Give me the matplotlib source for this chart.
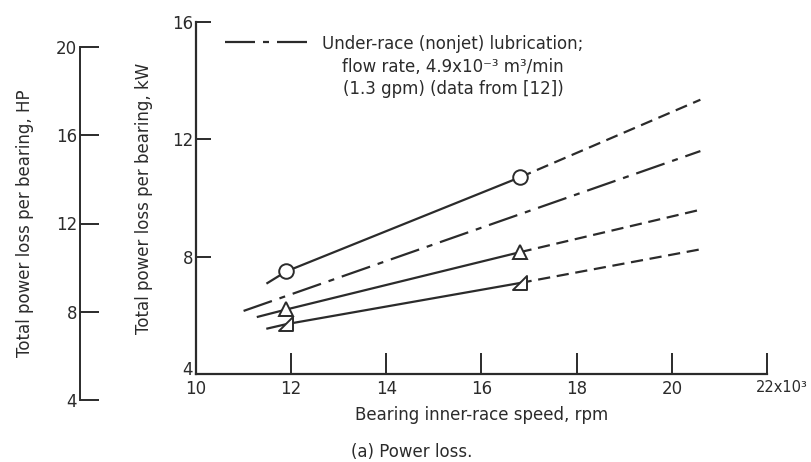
import matplotlib
matplotlib.use("Agg")
import matplotlib.pyplot as plt
import matplotlib.transforms as mtransforms
from matplotlib.path import Path

plt.rcParams['font.family'] = ['Liberation Sans Narrow', 'DejaVu Sans']

ink = '#2b2b2b'

# circles: measured points and extrapolation
circ_x = [11.5, 11.9, 16.8]
circ_y = [7.1, 7.5, 10.7]
circ_ext_x = [16.8, 20.6]
circ_ext_y = [10.7, 13.35]

# open triangles
tri_x = [11.3, 11.9, 16.8]
tri_y = [5.95, 6.2, 8.15]
tri_ext_x = [16.8, 20.6]
tri_ext_y = [8.15, 9.6]

# flagged triangles
flag_x = [11.5, 11.9, 16.8]
flag_y = [5.55, 5.7, 7.1]
flag_ext_x = [16.8, 20.6]
flag_ext_y = [7.1, 8.25]

# under-race (nonjet) lubrication, data from [12]
under_x = [11.0, 20.6]
under_y = [6.15, 11.6]

x_ticks = [10, 12, 14, 16, 18, 20, 22]
kw_ticks = [4, 8, 12, 16]
hp_ticks = [4, 8, 12, 16, 20]

W, H = 811, 462
fig = plt.figure(figsize=(W / 100, H / 100), dpi=100)

ax = fig.add_axes([196 / W, 1 - 374 / H, (767 - 196) / W, (374 - 22) / H])
ax.set_xlim(10, 22)
ax.set_ylim(4, 16)
ax.patch.set_alpha(0)
for s in ['top', 'right']:
    ax.spines[s].set_visible(False)
for s in ['left', 'bottom']:
    ax.spines[s].set_linewidth(1.6)
    ax.spines[s].set_color(ink)

ax.set_xticks(x_ticks)
ax.set_xticklabels([str(t) for t in x_ticks[:-1]] + [''])
ax.set_yticks(kw_ticks)
ax.tick_params(axis='x', direction='in', length=15, width=1.4, color=ink,
               labelsize=12, labelcolor=ink, pad=4)
ax.tick_params(axis='y', direction='in', length=11, width=1.4, color=ink,
               labelsize=12, labelcolor=ink, pad=2)
# last x label carries the multiplier
ax.annotate('%dx10³' % x_ticks[-1], xy=(x_ticks[-1], 0),
            xycoords=('data', 'axes fraction'),
            xytext=(-8, -4), textcoords='offset points', ha='left', va='top',
            fontsize=10.5, color=ink)

# lift the corner "4" a little off the x labels
fig.canvas.draw()
lab4 = ax.get_yticklabels()[0]
lab4.set_transform(lab4.get_transform() +
                   mtransforms.ScaledTranslation(0, 4 / 72, fig.dpi_scale_trans))

lw = 1.6
dash = (0, (5.5, 3))
flag_marker = Path([(-1, -1), (1, -1), (1, 1), (-1, -1)],
                   [Path.MOVETO, Path.LINETO, Path.LINETO, Path.CLOSEPOLY])

ax.plot(circ_x, circ_y, color=ink, lw=lw)
ax.plot(circ_ext_x, circ_ext_y, color=ink, lw=lw, linestyle=dash)
ax.plot(circ_x[1:], circ_y[1:], linestyle='none', marker='o', ms=10.5,
        mfc='white', mec=ink, mew=1.4)

ax.plot(tri_x, tri_y, color=ink, lw=lw)
ax.plot(tri_ext_x, tri_ext_y, color=ink, lw=lw, linestyle=dash)
ax.plot(tri_x[1:], tri_y[1:], linestyle='none', marker='^', ms=10,
        mfc='white', mec=ink, mew=1.4)

ax.plot(flag_x, flag_y, color=ink, lw=lw)
ax.plot(flag_ext_x, flag_ext_y, color=ink, lw=lw, linestyle=dash)
ax.plot(flag_x[1:], flag_y[1:], linestyle='none', marker=flag_marker, ms=10,
        mfc='white', mec=ink, mew=1.4)

dashdot = (0, (13.5, 3.6, 2.7, 3.6))
ax.plot(under_x, under_y, color=ink, lw=lw, linestyle=dashdot)

# legend entry
ax.plot([0.05, 0.20], [0.943, 0.943], transform=ax.transAxes, color=ink,
        lw=lw, linestyle=dashdot)
ax.text(0.45, 0.962,
        'Under-race (nonjet) lubrication;\nflow rate, 4.9x10⁻³ m³/min\n(1.3 gpm) (data from [12])',
        transform=ax.transAxes, ha='center', va='top', multialignment='center',
        fontsize=12, color=ink, linespacing=1.3)

ax.set_ylabel('Total power loss per bearing, kW', fontsize=12, color=ink,
              labelpad=14)
ax.set_xlabel('Bearing inner-race speed, rpm', fontsize=12, color=ink,
              labelpad=6)

# secondary horsepower scale
hx = fig.add_axes([80 / W, 1 - 400 / H, 0.0001, (400 - 47) / H])
hx.set_ylim(4, 20)
hx.set_yticks(hp_ticks)
hx.set_xticks([])
hx.patch.set_alpha(0)
for s in ['top', 'right', 'bottom']:
    hx.spines[s].set_visible(False)
hx.spines['left'].set_linewidth(1.4)
hx.spines['left'].set_color(ink)
hx.tick_params(axis='y', direction='in', length=14, width=1.4, color=ink,
               labelsize=12, labelcolor=ink, pad=2)
hx.set_ylabel('Total power loss per bearing, HP', fontsize=12, color=ink,
              labelpad=16)

fig.text(412 / W, 1 - 452 / H, '(a) Power loss.', ha='center', va='center',
         fontsize=12, color=ink)

fig.savefig('out.png', dpi=100, facecolor='white')
